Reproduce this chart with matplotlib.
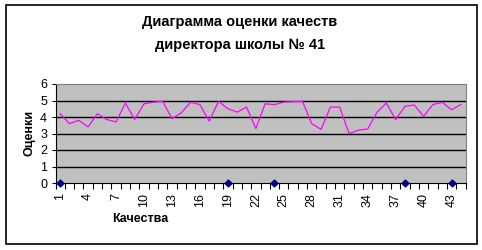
import numpy as np
import matplotlib.pyplot as plt
from matplotlib.patches import Rectangle

plt.rcParams['font.family'] = ['Liberation Sans', 'DejaVu Sans']

# оценки по каждому качеству
categories = list(range(1, 45))
scores = [4.2, 3.6, 3.8, 3.4, 4.2, 3.85, 3.7, 4.85, 3.85, 4.8,
          4.9, 4.95, 3.9, 4.25, 4.9, 4.75, 3.75, 4.95, 4.5, 4.3,
          4.6, 3.3, 4.8, 4.75, 4.9, 4.93, 4.95, 3.6, 3.25, 4.6,
          4.6, 3.0, 3.2, 3.27, 4.28, 4.85, 3.84, 4.65, 4.73, 4.04,
          4.75, 4.89, 4.44, 4.75]
# вторая серия: только нулевые точки
zero_cats = [1, 19, 24, 38, 43]
zero_vals = [0, 0, 0, 0, 0]
tick_labels = [str(c) for c in range(1, 45, 3)]

fig = plt.figure(figsize=(4.82, 2.50), dpi=100)
fig.patches.append(Rectangle((5.5 / 482, 1 - 244.3 / 250), 471.8 / 482, 239 / 250,
                             transform=fig.transFigure, fill=False,
                             edgecolor='black', linewidth=1.2))

ax = fig.add_axes([55.5 / 482, 67 / 250, 410 / 482, 99 / 250])
ax.set_facecolor('#C0C0C0')
ax.plot(categories, scores, color='#FF00FF', linewidth=0.9)
ax.plot(zero_cats, zero_vals, linestyle='none', marker='D', markersize=3.5,
        color='#000080', clip_on=False, zorder=5)

ax.set_xlim(0.5, 44.5)
ax.set_ylim(0, 6)
ax.set_yticks(range(0, 7))
for yv in range(1, 6):
    ax.axhline(yv, color='black', linewidth=1, zorder=1)

ax.set_xticks(range(1, 45, 3))
ax.set_xticklabels(tick_labels, rotation=90, fontsize=9)
ax.set_xticks(np.arange(0.5, 45, 1), minor=True)
ax.tick_params(axis='x', which='major', length=0, pad=7)
ax.tick_params(axis='x', which='minor', length=4, width=0.8, direction='out')
ax.tick_params(axis='y', length=3, width=0.8, labelsize=9, pad=3)

for side in ['top', 'right']:
    ax.spines[side].set_color('#808080')
for side in ['left', 'bottom']:
    ax.spines[side].set_color('black')

fig.text(0.498, 1 - 22 / 250, 'Диаграмма оценки качеств', ha='center', va='center',
         fontsize=10.5, fontweight='bold')
fig.text(0.498, 1 - 45 / 250, 'директора школы № 41', ha='center', va='center',
         fontsize=10.5, fontweight='bold')
fig.text(30 / 482, 1 - 133 / 250, 'Оценки', rotation=90, ha='center', va='center',
         fontsize=9, fontweight='bold')
fig.text(140 / 482, 1 - 219 / 250, 'Качества', ha='center', va='center',
         fontsize=9, fontweight='bold')

fig.savefig('out.png', dpi=100)
